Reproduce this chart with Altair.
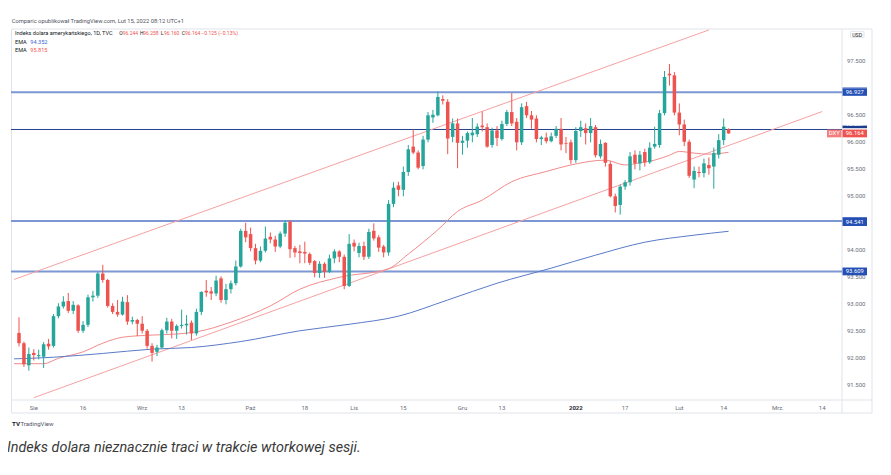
import altair as alt
import pandas as pd
import numpy as np

# ---------------- data ----------------
dates = pd.bdate_range("2021-07-28", "2022-02-15").strftime("%Y-%m-%d").tolist()

opens = [
    92.47, 92.28, 91.87,
    92.10, 92.04, 92.03, 92.27, 92.23, 92.78, 92.96, 93.06, 92.88, 92.98,
    92.51, 92.62, 93.13, 93.16, 93.57, 93.45, 92.97, 92.86, 92.81, 93.04,
    92.68, 92.71,
    92.64, 92.51, 92.23, 92.12, 92.20, 92.52, 92.68, 92.51, 92.60, 92.61, 92.66,
    92.46, 92.86, 93.25, 93.24, 93.20, 93.48, 93.08, 93.28, 93.39, 93.70, 94.36,
    94.30, 94.04, 93.81, 93.99, 94.25, 94.20, 94.07, 94.31, 94.53, 94.04, 93.98,
    93.97, 93.93, 93.80, 93.58, 93.75, 93.60, 93.85, 93.98, 93.88, 93.34,
    94.14, 93.95, 94.08, 93.88, 94.36, 94.24, 94.07, 93.96, 94.86, 95.20, 95.12,
    95.45, 95.92, 95.81, 95.56, 96.05, 96.46, 96.50, 96.80, 96.75, 96.10, 96.35,
    95.99, 96.03, 96.13, 96.15, 96.31, 96.28, 95.95, 96.22, 96.06, 96.34, 96.56,
    96.38, 96.00, 96.67, 96.50, 96.44, 96.06, 96.09, 96.02, 96.12, 96.25, 95.98, 96.00,
    95.67, 96.21, 96.26, 96.17, 96.28, 95.74, 95.99, 95.60, 95.00, 94.84, 95.18,
    95.26, 95.77, 95.61, 95.82, 95.63, 95.92, 95.95, 96.54, 97.27, 97.24,
    96.55, 96.33, 96.01, 95.31, 95.45, 95.43, 95.58, 95.55, 95.77, 96.04, 96.244,
]
highs = [
    92.76, 92.31, 92.20,
    92.17, 92.16, 92.30, 92.36, 92.82, 93.02, 93.15, 93.21, 93.06, 93.00,
    92.69, 93.18, 93.25, 93.60, 93.73, 93.47, 93.02, 93.08, 93.14, 93.17,
    92.77, 92.73,
    92.78, 92.54, 92.28, 92.25, 92.55, 92.75, 92.73, 92.63, 92.90, 92.80, 92.70,
    92.92, 93.24, 93.45, 93.32, 93.53, 93.52, 93.38, 93.44, 93.81, 94.40, 94.51,
    94.42, 94.12, 94.07, 94.44, 94.33, 94.27, 94.35, 94.56, 94.56, 94.08, 94.10,
    94.16, 93.96, 93.82, 93.80, 93.78, 93.92, 94.02, 94.00, 93.92, 94.30,
    94.20, 94.14, 94.16, 94.40, 94.50, 94.28, 94.10, 94.93, 95.26, 95.27, 95.55,
    95.95, 96.24, 95.85, 96.12, 96.56, 96.60, 96.94, 96.87, 96.80, 96.44, 96.44,
    96.12, 96.20, 96.45, 96.35, 96.57, 96.35, 96.27, 96.30, 96.40, 96.60, 96.91,
    96.45, 96.72, 96.75, 96.58, 96.50, 96.12, 96.18, 96.18, 96.30, 96.45, 96.10, 96.05,
    96.28, 96.40, 96.35, 96.45, 96.32, 96.05, 96.00, 95.65, 95.05, 95.22, 95.30,
    95.82, 95.85, 95.84, 95.88, 96.00, 96.29, 96.60, 97.32, 97.45, 97.30,
    96.72, 96.42, 96.05, 95.55, 95.55, 95.70, 95.72, 95.90, 96.15, 96.44, 96.258,
]
lows = [
    92.22, 91.84, 91.77,
    91.96, 91.98, 91.82, 92.16, 92.20, 92.74, 92.92, 92.84, 92.82, 92.47,
    92.47, 92.58, 93.05, 93.12, 93.40, 92.94, 92.82, 92.77, 92.79, 92.62,
    92.63, 92.41,
    92.46, 92.18, 91.94, 92.04, 92.18, 92.46, 92.37, 92.36, 92.55, 92.44, 92.34,
    92.42, 92.80, 93.14, 93.08, 93.15, 93.03, 93.00, 93.20, 93.35, 93.68, 94.15,
    93.98, 93.74, 93.78, 93.96, 94.13, 93.97, 94.04, 94.25, 93.86, 93.87, 93.76,
    93.76, 93.73, 93.50, 93.49, 93.49, 93.58, 93.76, 93.78, 93.28, 93.32,
    93.98, 93.87, 93.82, 93.84, 94.18, 93.97, 93.87, 93.90, 94.80, 95.00, 95.00,
    95.38, 95.78, 95.50, 95.50, 96.00, 96.36, 96.48, 96.70, 95.78, 96.00, 95.52,
    95.77, 95.90, 96.00, 96.10, 96.20, 95.90, 95.90, 95.93, 96.03, 96.30, 96.30,
    95.85, 95.95, 96.45, 96.25, 96.00, 95.95, 95.98, 96.00, 96.08, 95.85, 95.80, 95.60,
    95.62, 96.10, 95.96, 96.00, 95.72, 95.70, 95.55, 94.98, 94.70, 94.66, 95.12,
    95.20, 95.50, 95.48, 95.55, 95.60, 95.88, 95.90, 96.50, 97.05, 96.50,
    96.13, 95.93, 95.34, 95.15, 95.35, 95.35, 95.40, 95.14, 95.70, 95.95, 96.160,
]
closes = [
    92.28, 91.89, 92.08,
    92.06, 92.06, 92.26, 92.22, 92.78, 92.96, 93.05, 92.88, 92.99, 92.51,
    92.62, 93.13, 93.16, 93.57, 93.45, 92.97, 92.86, 92.81, 93.05, 92.68,
    92.71, 92.64,
    92.51, 92.23, 92.10, 92.20, 92.52, 92.68, 92.51, 92.60, 92.62, 92.64, 92.46,
    92.86, 93.23, 93.22, 93.20, 93.44, 93.08, 93.28, 93.39, 93.70, 94.36, 94.24,
    94.04, 93.81, 93.99, 94.22, 94.20, 94.07, 94.31, 94.51, 94.02, 93.96, 93.95,
    93.94, 93.77, 93.58, 93.75, 93.60, 93.85, 93.98, 93.88, 93.34, 94.12,
    94.07, 94.08, 93.88, 94.34, 94.22, 94.05, 93.96, 94.86, 95.16, 95.12, 95.45,
    95.87, 95.81, 95.53, 96.05, 96.50, 96.51, 96.84, 96.77, 96.07, 96.35, 95.99,
    96.03, 96.17, 96.18, 96.29, 96.28, 95.92, 96.22, 96.08, 96.34, 96.56, 96.35,
    96.00, 96.65, 96.50, 96.42, 96.06, 96.09, 96.02, 96.11, 96.25, 95.96, 95.97, 95.67,
    96.21, 96.28, 96.17, 96.30, 95.76, 95.97, 95.62, 95.00, 94.82, 95.18, 95.26,
    95.74, 95.61, 95.77, 95.63, 95.90, 95.97, 96.54, 97.21, 97.24, 96.55,
    96.33, 96.01, 95.38, 95.47, 95.43, 95.61, 95.52, 95.80, 96.04, 96.289, 96.164,
]

# EMA lines
ema_red_dates = ["2021-07-27", "2021-08-04", "2021-08-09", "2021-08-16", "2021-08-20",
                 "2021-08-26", "2021-09-03", "2021-09-10", "2021-09-16", "2021-09-27",
                 "2021-10-07", "2021-10-15", "2021-10-27", "2021-11-10", "2021-11-16",
                 "2021-11-24", "2021-11-30", "2021-12-07", "2021-12-15", "2021-12-24",
                 "2021-12-31", "2022-01-11", "2022-01-17", "2022-01-20", "2022-01-25",
                 "2022-01-28", "2022-02-01", "2022-02-04", "2022-02-09", "2022-02-15"]
ema_red_vals = [91.90, 91.90, 92.00, 92.12, 92.28, 92.39, 92.43, 92.45, 92.49, 92.67,
                92.97, 93.28, 93.50, 93.66, 93.93, 94.38, 94.72, 94.93, 95.27, 95.46,
                95.58, 95.67, 95.58, 95.62, 95.67, 95.76, 95.83, 95.80, 95.78, 95.815]
ema_blue_dates = ["2021-07-27", "2021-08-06", "2021-08-20", "2021-09-03", "2021-09-15",
                  "2021-09-29", "2021-10-15", "2021-10-29", "2021-11-12", "2021-11-26",
                  "2021-12-10", "2021-12-27", "2022-01-07", "2022-01-21", "2022-02-04",
                  "2022-02-15"]
ema_blue_vals = [91.99, 92.02, 92.09, 92.17, 92.20, 92.31, 92.51, 92.63, 92.78, 93.08,
                 93.39, 93.67, 93.91, 94.15, 94.28, 94.352]

# trend channel (two drawn lines)
chan_upper_dates = ["2021-07-27", "2022-02-09"]
chan_upper_vals = [93.46, 98.08]
chan_lower_dates = ["2021-08-02", "2022-03-14"]
chan_lower_vals = [91.27, 96.57]

# horizontal levels
levels_main = [96.927, 94.541, 93.609]
level_dark = [96.237]

# time axis
tick_dates = ["2021-08-02", "2021-08-16", "2021-09-01", "2021-09-13", "2021-10-01",
              "2021-10-18", "2021-11-01", "2021-11-15", "2021-12-01", "2021-12-13",
              "2022-01-03", "2022-01-17", "2022-02-01", "2022-02-14", "2022-03-01",
              "2022-03-14"]
tick_labels = ["Sie", "16", "Wrz", "13", "Paź", "18", "Lis", "15", "Gru", "13",
               "2022", "17", "Lut", "14", "Mrz.", "14"]
# price-scale labels that are not hidden behind the tags
price_ticks = [91.5, 92.0, 92.5, 93.0, 93.5, 94.0, 95.0, 95.5, 96.0, 96.5, 97.5]

ema200_last = 94.352
ema50_last = 95.815

# ---------------- helpers ----------------
BASE = np.datetime64("2021-08-02")


def tday(ds):
    return np.busday_count(BASE, np.array(ds, dtype="datetime64[D]")).astype(float)


W, H = 831, 371
xs = alt.Scale(domain=[-3.609, 163.0], nice=False, zero=False)
ys = alt.Scale(domain=[91.228, 98.098], nice=False, zero=False)
FONT = "Roboto"
UP, DOWN = "#26a69a", "#ef5350"
GRID = "#e0e3eb"
AXTXT = "#6a6d78"

cdf = pd.DataFrame({"date": dates, "o": opens, "h": highs, "l": lows, "c": closes})
cdf["t"] = tday(cdf["date"])
cdf["dir"] = np.where(cdf["c"] >= cdf["o"], "up", "down")
cdf["blo"] = np.minimum(cdf["o"], cdf["c"])
cdf["bhi"] = np.maximum(np.maximum(cdf["o"], cdf["c"]), cdf["blo"] + 0.012)
cdf["h"] = np.maximum(cdf["h"], cdf["bhi"])
cdf["l"] = np.minimum(cdf["l"], cdf["blo"])

colscale = alt.Scale(domain=["up", "down"], range=[UP, DOWN])
one = pd.DataFrame({"k": [0]})

X = lambda f: alt.X(f, scale=xs, axis=None)
Y = lambda f: alt.Y(f, scale=ys, axis=None)

# frame and axis separators
frame = alt.Chart(one).mark_rect(fill="transparent", stroke=GRID, strokeWidth=1).encode(
    x=alt.value(0.5), x2=alt.value(W + 30), y=alt.value(0), y2=alt.value(H + 13))
sep_v = alt.Chart(one).mark_rule(color=GRID, strokeWidth=1).encode(
    x=alt.value(W), y=alt.value(0), y2=alt.value(H + 13))
sep_h = alt.Chart(one).mark_rule(color=GRID, strokeWidth=1).encode(
    x=alt.value(0.5), x2=alt.value(W + 30), y=alt.value(H))

# time axis labels
tdf = pd.DataFrame({"t": tday(tick_dates), "lab": tick_labels})
tdf["bold"] = tdf["lab"].str.fullmatch(r"\d{4}")
xlab = alt.Chart(tdf[~tdf["bold"]]).mark_text(fontSize=6, font=FONT, color=AXTXT,
                                               baseline="middle").encode(
    x=X("t:Q"), y=alt.value(H + 7.7), text="lab:N")
xlab_b = alt.Chart(tdf[tdf["bold"]]).mark_text(fontSize=6, font=FONT, color="#2a2e39",
                                                fontWeight="bold", baseline="middle").encode(
    x=X("t:Q"), y=alt.value(H + 7.7), text="lab:N")

# price axis labels
pdf = pd.DataFrame({"p": price_ticks})
ylab = alt.Chart(pdf).transform_calculate(lab="format(datum.p, '.3f')").mark_text(
    fontSize=6, font=FONT, color=AXTXT, align="left", baseline="middle").encode(
    x=alt.value(W + 5), y=Y("p:Q"), text="lab:N")

lv_main = alt.Chart(pd.DataFrame({"v": levels_main})).mark_rule(
    color="#7d97d4", strokeWidth=2).encode(y=Y("v:Q"))
lv_dark = alt.Chart(pd.DataFrame({"v": level_dark})).mark_rule(
    color="#24418f", strokeWidth=1).encode(y=Y("v:Q"))

chan = pd.DataFrame({
    "t": np.concatenate([tday(chan_upper_dates), tday(chan_lower_dates)]),
    "v": chan_upper_vals + chan_lower_vals,
    "line": ["upper"] * 2 + ["lower"] * 2,
})
chan_layer = alt.Chart(chan).mark_line(color="#f6a1a1", strokeWidth=1, clip=True).encode(
    x=X("t:Q"), y=Y("v:Q"), detail="line:N")

ema_r = pd.DataFrame({"t": tday(ema_red_dates), "v": ema_red_vals})
ema_b = pd.DataFrame({"t": tday(ema_blue_dates), "v": ema_blue_vals})
ema_r_layer = alt.Chart(ema_r).mark_line(color="#f28b8b", strokeWidth=1, clip=True,
                                         interpolate="monotone").encode(x=X("t:Q"), y=Y("v:Q"))
ema_b_layer = alt.Chart(ema_b).mark_line(color="#5a7bc8", strokeWidth=1, clip=True,
                                         interpolate="monotone").encode(x=X("t:Q"), y=Y("v:Q"))

wicks = alt.Chart(cdf).mark_rule(strokeWidth=1).encode(
    x=X("t:Q"), y=Y("l:Q"), y2="h:Q",
    color=alt.Color("dir:N", scale=colscale, legend=None))
bodies = alt.Chart(cdf).mark_bar(size=3.5).encode(
    x=X("t:Q"), y=Y("blo:Q"), y2="bhi:Q",
    color=alt.Color("dir:N", scale=colscale, legend=None))


def tag(val, fill, yoff, x0, x1, text=None, tcolor="white"):
    d = pd.DataFrame({"v": [val]})
    b = alt.Chart(d).transform_calculate(
        lo="datum.v - 0.072", hi="datum.v + 0.072",
        lab=("'" + text + "'") if text else "format(datum.v, '.3f')")
    box = b.mark_rect(fill=fill, yOffset=yoff).encode(
        x=alt.value(x0), x2=alt.value(x1), y=Y("lo:Q"), y2="hi:Q")
    txt = b.mark_text(fontSize=5.8, font=FONT, color=tcolor, align="center",
                      baseline="middle", yOffset=yoff).encode(
        x=alt.value((x0 + x1) / 2), y=Y("v:Q"), text="lab:N")
    return [box, txt]


tags = []
tags += tag(96.927, "#2450b5", -8.6, W + 0.5, W + 25)
tags += tag(96.927, "#2450b5", -0.3, W + 0.5, W + 25)
tags += tag(96.237, "#1b3d8f", -5.2, W + 0.5, W + 25)
tags += tag(closes[-1], "#ef5350", 0, W + 0.5, W + 25)
tags += tag(closes[-1], "#f47c7c", 0, W - 15, W - 0.5, text="DXY")
tags += tag(94.541, "#2450b5", 1.0, W + 0.5, W + 25)
tags += tag(93.609, "#2450b5", 0.0, W + 0.5, W + 25)

usd_box = alt.Chart(one).mark_rect(fill="white", stroke="#d1d4dc", strokeWidth=0.6,
                                   cornerRadius=1).encode(
    x=alt.value(W + 8.5), x2=alt.value(W + 22), y=alt.value(2.4), y2=alt.value(8.6))
usd_txt = alt.Chart(one).mark_text(fontSize=5.3, font=FONT, color="#131722",
                                   baseline="middle", align="center").encode(
    x=alt.value(W + 15.2), y=alt.value(5.5), text=alt.value("USD"))


def label(s, x, y, color="#131722", size=5.6, **kw):
    return alt.Chart(one).mark_text(fontSize=size, font=FONT, color=color, align="left",
                                    baseline="middle", **kw).encode(
        x=alt.value(x), y=alt.value(y), text=alt.value(s))


RED = "#ef5350"
VS = 5.0
chg = closes[-1] - closes[-2]
pct = chg / closes[-2] * 100
texts = [
    label("Comparic opublikował TradingView.com, Lut 15, 2022 08:12 UTC+1", 0.7, -8.2, "#50535e", 5.8),
    label("Indeks dolara amerykańskiego, 1D, TVC", 4, 4.4),
    label("O", 108.3, 4.4, size=VS), label(f"{opens[-1]:.3f}", 111.7, 4.4, RED, VS),
    label("H", 129.0, 4.4, size=VS), label(f"{highs[-1]:.3f}", 132.3, 4.4, RED, VS),
    label("L", 149.7, 4.4, size=VS), label(f"{lows[-1]:.3f}", 153.0, 4.4, RED, VS),
    label("C", 170.7, 4.4, size=VS), label(f"{closes[-1]:.3f}", 174.0, 4.4, RED, VS),
    label(f"\u2212{abs(chg):.3f} (\u2212{abs(pct):.2f}%)", 190.5, 4.4, RED, VS),
    label("EMA", 4, 13.3), label(f"{ema200_last:.3f}", 19.3, 13.3, "#3b68d6"),
    label("EMA", 4, 21.2), label(f"{ema50_last:.3f}", 19.3, 21.2, RED),
    label("TV", 1.0, 394.5, "#131722", 6.2, fontWeight="bold"),
    label("TradingView", 9.5, 394.5, "#50535e", 6),
    label("Indeks dolara nieznacznie traci w trakcie wtorkowej sesji.", -4, 418.5,
          "#3a3a3a", 14.4, fontStyle="italic"),
]

chart = alt.layer(
    frame, sep_v, sep_h, xlab, xlab_b, ylab,
    lv_main, lv_dark, chan_layer, ema_r_layer, ema_b_layer, wicks, bodies,
    *tags, usd_box, usd_txt, *texts
).properties(
    width=W, height=H,
    autosize=alt.AutoSizeParams(type="none"),
    padding={"left": 3, "top": 21, "right": 40, "bottom": 60},
    background="white",
).configure_view(stroke=None)

chart.save("out.html", embed_options={"renderer": "svg", "actions": False})
